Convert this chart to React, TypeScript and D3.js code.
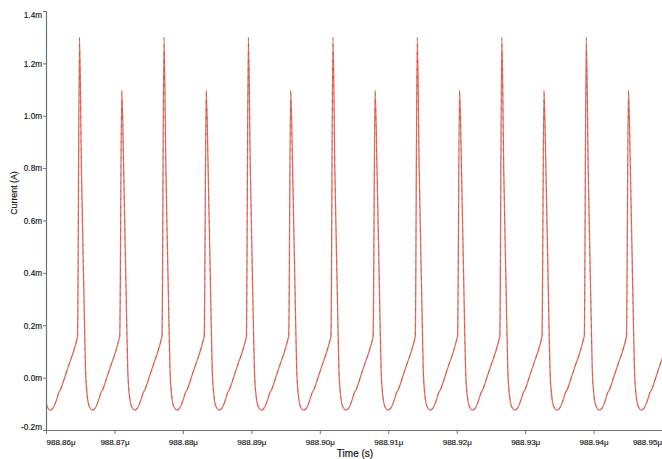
import React from "react";
import * as d3 from "d3";

// Peak times (μs) of each current spike; the first one lies just before the visible window
const peakTimes = [
  988.85866, 988.86482, 988.87099, 988.87716, 988.88333, 988.88949, 988.89567,
  988.90184, 988.908, 988.91416, 988.92034, 988.92651, 988.93267, 988.93885, 988.94501,
];
// Peak heights (mA)
const peakValues = [1.1, 1.3, 1.1, 1.3, 1.1, 1.3, 1.1, 1.3, 1.1, 1.3, 1.1, 1.3, 1.1, 1.3, 1.1];

// Shape of one cycle around each spike: offset from the peak (ns) and current (mA); null = peak value
const cycleOffsetsNs = [-0.29, 0, 0.28, 0.66, 0.88, 1.14, 1.46, 1.92, 2.34, 2.78, 3.14, 3.43, 3.72, 4.09, 4.67, 5.26, 5.81];
const cycleValues: (number | null)[] = [0.16, null, 0.8, 0.3, 0.03, -0.07, -0.11, -0.122, -0.113, -0.085, -0.055, -0.042, -0.02, 0.01, 0.055, 0.1, 0.152];

const xTicks = [988.86, 988.87, 988.88, 988.89, 988.9, 988.91, 988.92, 988.93, 988.94, 988.95];
const xTickLabels = ["988.86μ", "988.87μ", "988.88μ", "988.89μ", "988.90μ", "988.91μ", "988.92μ", "988.93μ", "988.94μ", "988.95μ"];
const yTicks = [-0.2, 0, 0.2, 0.4, 0.6, 0.8, 1.0, 1.2, 1.4];
const yTickLabels = ["-0.2m", "0.0m", "0.2m", "0.4m", "0.6m", "0.8m", "1.0m", "1.2m", "1.4m"];

const W = 662;
const H = 459;
const left = 46.5;
const right = 662.6;
const top = 11.5;
const bottom = 430.5;

export default function App() {
  const x = d3.scaleLinear().domain([988.86, 988.95]).range([left, right]);
  const y = d3.scaleLinear().domain([-0.2, 1.4]).range([bottom, top]);

  const pts: [number, number][] = [];
  peakTimes.forEach((pt, i) => {
    cycleOffsetsNs.forEach((off, j) => {
      const v = cycleValues[j];
      pts.push([pt + off / 1000, v === null ? peakValues[i] : v]);
    });
  });

  const line = d3
    .line<[number, number]>()
    .x((d) => x(d[0]))
    .y((d) => y(d[1]))
    .curve(d3.curveMonotoneX);
  const path = line(pts) || "";

  const axisColor = "#6a7478";
  const font = "'Liberation Sans', Arial, sans-serif";

  return (
    <svg width={W} height={H} style={{ position: "absolute", left: 0, top: 0, background: "#fff" }}>
      <defs>
        <clipPath id="plot">
          <rect x={left} y={0} width={right - left} height={bottom} />
        </clipPath>
      </defs>
      <g clipPath="url(#plot)">
        <path d={path} fill="none" stroke="#e36f61" strokeWidth={1.3} />
        <path d={path} fill="none" stroke="#8a2e24" strokeWidth={0.6} strokeDasharray="3 5" opacity={0.5} />
      </g>
      {/* Y axis */}
      <line x1={left} x2={left} y1={top} y2={bottom} stroke={axisColor} strokeWidth={1.2} />
      {yTicks.map((t, i) => {
        const yy = y(t);
        let ly = yy;
        if (i === yTicks.length - 1) ly = yy + 3.5;
        if (i === 0) ly = yy - 3.5;
        return (
          <g key={"y" + i}>
            <line x1={left - 3.5} x2={left} y1={yy} y2={yy} stroke={axisColor} strokeWidth={1} />
            <text x={left - 4.5} y={ly} dy="0.35em" textAnchor="end" fontSize={8.2} fontFamily={font} fill="#111" stroke="#111" strokeWidth={0.15}>
              {yTickLabels[i]}
            </text>
          </g>
        );
      })}
      {/* X axis */}
      <line x1={left} x2={right} y1={bottom} y2={bottom} stroke={axisColor} strokeWidth={1.2} />
      {xTicks.map((t, i) => {
        const xx = x(t);
        let anchor: "start" | "middle" | "end" = "middle";
        if (i === 0) anchor = "start";
        if (i === xTicks.length - 1) anchor = "end";
        return (
          <g key={"x" + i}>
            <line x1={xx} x2={xx} y1={bottom} y2={bottom + 3.5} stroke={axisColor} strokeWidth={1} />
            <text x={i === xTicks.length - 1 ? W : xx} y={bottom + 14} textAnchor={anchor} fontSize={8} fontFamily={font} fill="#111" stroke="#111" strokeWidth={0.15}>
              {xTickLabels[i]}
            </text>
          </g>
        );
      })}
      <text x={355} y={457} textAnchor="middle" fontSize={10} fontFamily={font} fill="#111" stroke="#111" strokeWidth={0.2}>
        Time (s)
      </text>
      <text
        transform="translate(17,193) rotate(-90)"
        textAnchor="middle"
        fontSize={8.8}
        fontFamily={font}
        fill="#111"
        stroke="#111"
        strokeWidth={0.15}
      >
        Current (A)
      </text>
    </svg>
  );
}
